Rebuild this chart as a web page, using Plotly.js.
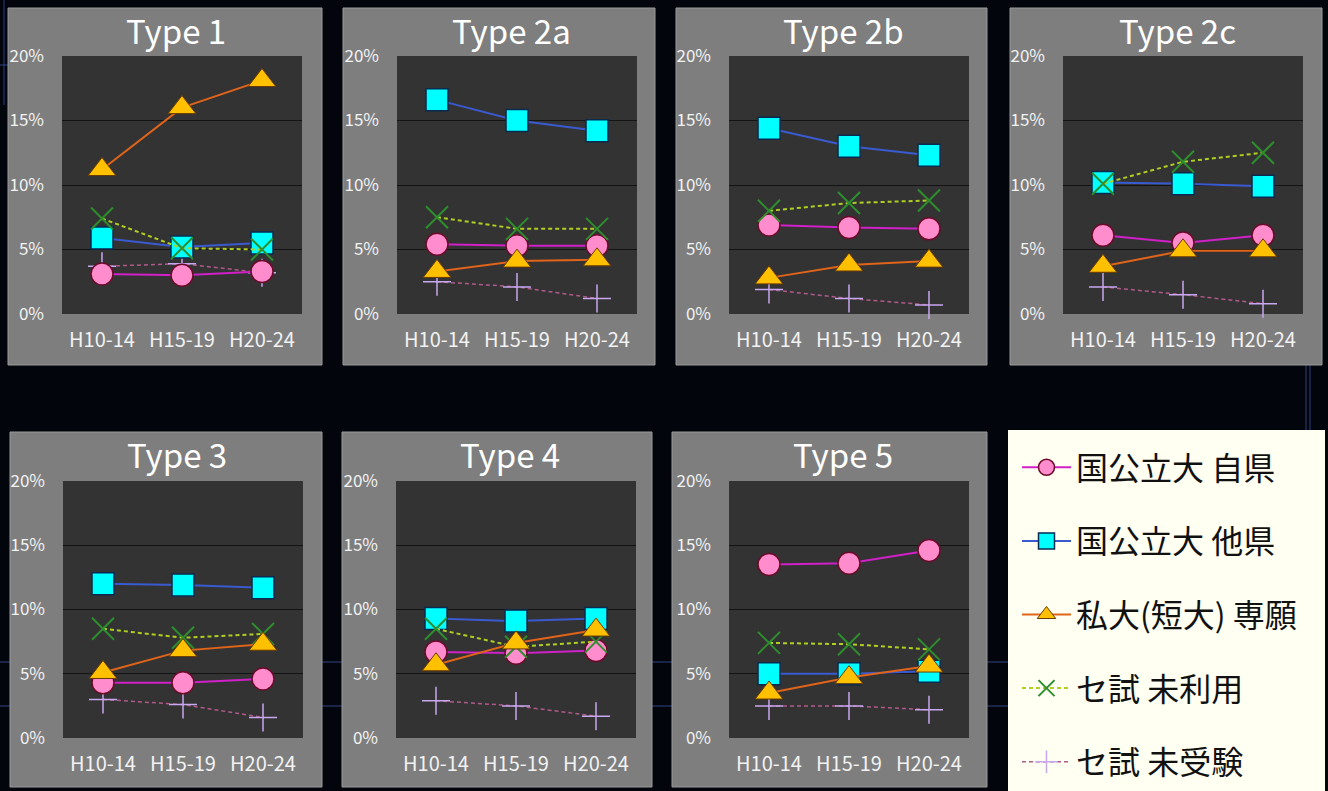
<!DOCTYPE html>
<html>
<head>
<meta charset="utf-8">
<script src="https://cdn.plot.ly/plotly-3.0.1.min.js"></script>
<style>html,body{margin:0;padding:0;background:#03050c;}#chart{width:1328px;height:791px;}</style>
</head>
<body>
<div id="chart"></div>
<script>
// ---- data ----
const periods = ['H10-14', 'H15-19', 'H20-24'];
const panelTitles = ['Type 1', 'Type 2a', 'Type 2b', 'Type 2c', 'Type 3', 'Type 4', 'Type 5'];
const seriesNames = ['国公立大 自県', '国公立大 他県', '私大(短大) 専願', 'セ試 未利用', 'セ試 未受験'];

// values (%) per panel, in order of panelTitles
const kokkoJiken = [[3.1, 3.0, 3.3], [5.4, 5.3, 5.3], [6.9, 6.7, 6.6], [6.1, 5.5, 6.1], [4.3, 4.3, 4.6], [6.7, 6.6, 6.8], [13.5, 13.6, 14.6]];
const kokkoTaken = [[5.9, 5.2, 5.5], [16.6, 15.0, 14.2], [14.4, 13.0, 12.3], [10.2, 10.1, 9.9], [12.0, 11.9, 11.7], [9.3, 9.1, 9.3], [5.0, 5.0, 5.2]];
const shidaiSengan = [[11.2, 16.0, 18.1], [3.3, 4.1, 4.2], [2.8, 3.8, 4.1], [3.7, 4.9, 4.9], [5.1, 6.8, 7.3], [5.7, 7.4, 8.4], [3.5, 4.7, 5.6]];
const seshiMiriyo = [[7.4, 5.1, 5.0], [7.5, 6.6, 6.6], [8.0, 8.6, 8.8], [10.1, 11.8, 12.5], [8.5, 7.8, 8.1], [8.5, 7.1, 7.5], [7.4, 7.3, 6.9]];
const seshiMijuken = [[3.7, 3.9, 3.2], [2.5, 2.1, 1.2], [1.9, 1.2, 0.7], [2.1, 1.5, 0.8], [3.0, 2.6, 1.6], [2.9, 2.5, 1.7], [2.5, 2.5, 2.2]];
const yTickVals = [0, 5, 10, 15, 20];
const yTickLabels = ['0%', '5%', '10%', '15%', '20%'];

// ---- styles ----
const W = 1328, H = 791;
const FONT = '"Noto Sans CJK JP", "Noto Sans", sans-serif';
const styles = [
  { data: kokkoJiken, rank: 1, line: { color: '#d020c8', width: 2 },
    marker: { symbol: 'circle', size: 22, color: '#ff8ccc', line: { color: '#6a0a2a', width: 1.5 } } },
  { data: kokkoTaken, rank: 2, line: { color: '#3a5ad0', width: 2 },
    marker: { symbol: 'square', size: 22, color: '#00ffff', line: { color: '#0a2a50', width: 1.5 } } },
  { data: shidaiSengan, rank: 3, line: { color: '#e0641a', width: 2 },
    marker: { symbol: 'triangle-up', size: 24, color: '#ffc000', line: { color: '#6a3a00', width: 1 } } },
  { data: seshiMiriyo, rank: 4, line: { color: '#b0d020', width: 2, dash: '4px,3px' },
    marker: { symbol: 'x-thin', size: 22, color: '#2e8e2e', line: { color: '#2e8e2e', width: 2 } } },
  { data: seshiMijuken, rank: 5, line: { color: '#b05a8a', width: 1.5, dash: '4px,3px' },
    marker: { symbol: 'cross-thin', size: 20, color: '#c8a8f0', line: { color: '#c8a8f0', width: 1.5 } } }
];
const drawOrder = [4, 0, 1, 3, 2];

// geometry (pixels)
const plotLefts = [62, 397, 729, 1063, 63, 396, 729];
const plotWidth = 240;
const rowTops = [56, 481], rowBottoms = [314, 738];
const panelBoxes = [[8, 8, 322, 365], [343, 8, 655, 365], [676, 8, 987, 365], [1010, 8, 1322, 365],
                    [10, 432, 322, 787], [342, 432, 652, 787], [672, 432, 987, 787]];

const traces = [];
const layout = {
  width: W, height: H,
  margin: { l: 0, r: 0, t: 0, b: 0 },
  paper_bgcolor: '#03050c',
  plot_bgcolor: '#333333',
  font: { family: FONT, color: '#ffffff' },
  showlegend: true,
  legend: {
    x: 1017 / W, y: 1 - 440 / H, xanchor: 'left', yanchor: 'top',
    bgcolor: 'rgba(0,0,0,0)', borderwidth: 0,
    font: { family: FONT, size: 32, color: '#111111' },
    tracegroupgap: 29, itemwidth: 49
  },
  shapes: [], annotations: []
};

// faint decorative background lines (slide backdrop)
[[0, 662, 1008, 662], [0, 706, 1008, 706], [0, 65, 8, 65]].forEach(l => {
  layout.shapes.push({ type: 'line', xref: 'paper', yref: 'paper', layer: 'below',
    x0: l[0] / W, x1: l[2] / W, y0: 1 - l[1] / H, y1: 1 - l[3] / H,
    line: { color: 'rgba(70,100,190,0.45)', width: 1.5 } });
});
[[1306, 365, 1306, 432], [1310, 365, 1310, 432], [4, 0, 4, 105]].forEach(l => {
  layout.shapes.push({ type: 'line', xref: 'paper', yref: 'paper', layer: 'below',
    x0: l[0] / W, x1: l[2] / W, y0: 1 - l[1] / H, y1: 1 - l[3] / H,
    line: { color: 'rgba(70,100,200,0.6)', width: 1 } });
});

// legend box
layout.shapes.push({ type: 'rect', xref: 'paper', yref: 'paper', layer: 'below',
  x0: 1008 / W, x1: 1325 / W, y0: 0, y1: 1 - 430 / H, fillcolor: '#fffff2', line: { width: 0 } });

panelTitles.forEach((title, p) => {
  const row = p < 4 ? 0 : 1;
  const idx = p + 1;
  const xa = 'xaxis' + (idx === 1 ? '' : idx), ya = 'yaxis' + (idx === 1 ? '' : idx);
  const xr = 'x' + (idx === 1 ? '' : idx), yr = 'y' + (idx === 1 ? '' : idx);
  const left = plotLefts[p];
  layout[xa] = {
    domain: [left / W, (left + plotWidth) / W], anchor: yr,
    type: 'category', categoryarray: periods, range: [-0.5, 2.5],
    showgrid: false, zeroline: false, showline: false, ticks: '',
    ticklabelstandoff: 12,
    tickfont: { family: FONT, size: 20, color: '#f2f2f2' }, fixedrange: true
  };
  layout[ya] = {
    domain: [1 - rowBottoms[row] / H, 1 - rowTops[row] / H], anchor: xr,
    range: [0, 20], tickmode: 'array', tickvals: yTickVals, ticktext: yTickLabels,
    showgrid: true, gridcolor: '#141414', gridwidth: 1,
    zeroline: false, showline: false, ticks: '',
    ticklabelstandoff: 17,
    tickfont: { family: FONT, size: 17, color: '#f2f2f2' }, fixedrange: true
  };
  const b = panelBoxes[p];
  layout.shapes.push({ type: 'rect', xref: 'paper', yref: 'paper', layer: 'below',
    x0: b[0] / W, x1: b[2] / W, y0: 1 - b[3] / H, y1: 1 - b[1] / H,
    fillcolor: '#7e7e7e', line: { color: '#9a9a9a', width: 1 } });
  // dark plot area (drawn above the grey panel)
  layout.shapes.push({ type: 'rect', xref: 'paper', yref: 'paper', layer: 'below',
    x0: left / W, x1: (left + plotWidth) / W, y0: 1 - rowBottoms[row] / H, y1: 1 - rowTops[row] / H,
    fillcolor: '#333333', line: { width: 0 } });
  layout.annotations.push({ xref: 'paper', yref: 'paper', showarrow: false,
    x: (left + plotWidth / 2 - 6) / W, y: 1 - (row === 0 ? 30 : 454) / H,
    xanchor: 'center', yanchor: 'middle', text: title,
    font: { family: FONT, size: 33, color: '#ffffff' } });

  drawOrder.forEach(s => {
    const st = styles[s];
    traces.push({
      type: 'scatter', mode: 'lines+markers',
      x: periods, y: st.data[p], xaxis: xr, yaxis: yr,
      name: seriesNames[s], legendgroup: 'g' + s, legendrank: st.rank,
      showlegend: p === 0,
      line: st.line, marker: st.marker, cliponaxis: false, hoverinfo: 'skip'
    });
  });
});

Plotly.newPlot('chart', traces, layout, { displayModeBar: false, staticPlot: true });
</script>
</body>
</html>
